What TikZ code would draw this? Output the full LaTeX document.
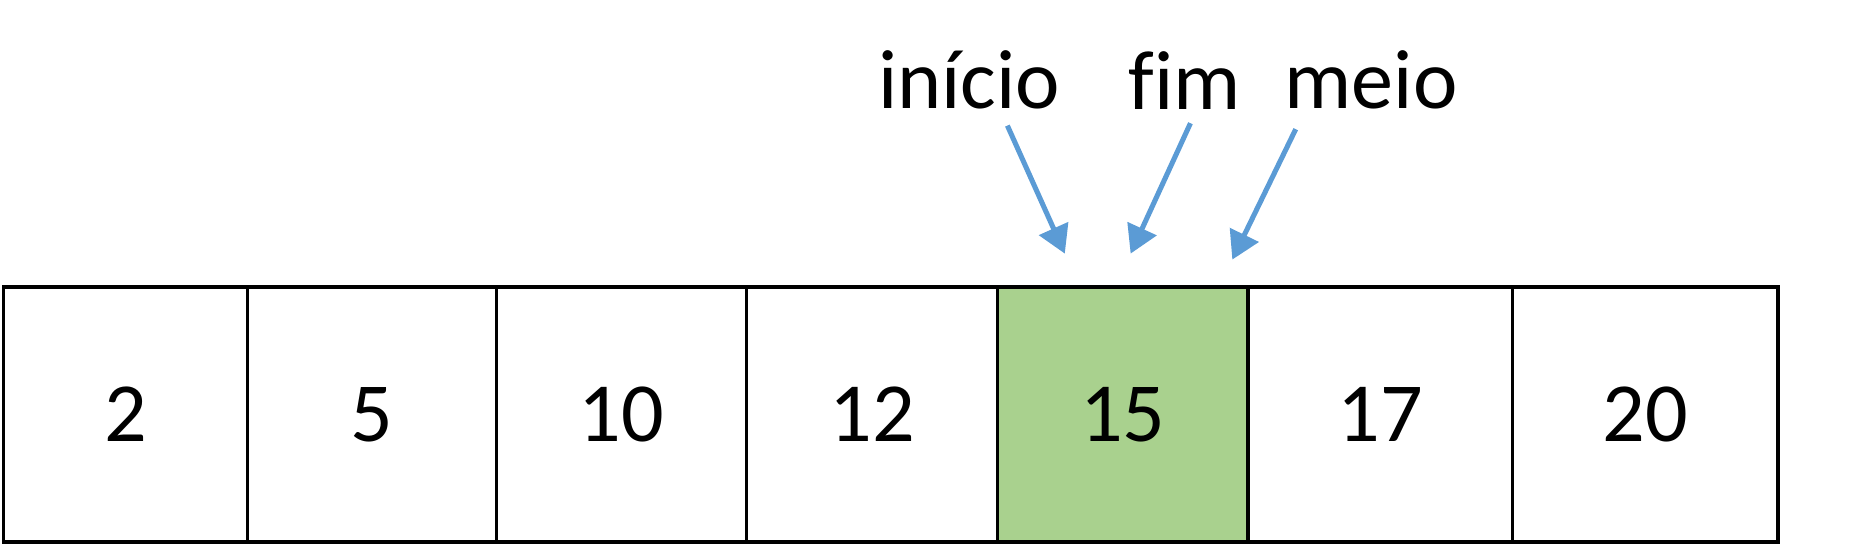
\documentclass[tikz,border=0pt]{standalone}
\usepackage{fontspec}
\setmainfont{Carlito}
\usetikzlibrary{arrows.meta}
\definecolor{arrowblue}{RGB}{91,155,213}
\definecolor{cellgreen}{RGB}{169,209,142}
\begin{document}
\begin{tikzpicture}[x=0.01cm,y=0.01cm,
  cell/.style={rectangle, draw, thick, minimum height=2.13cm, inner sep=0pt, font=\fontsize{20}{24}\selectfont},
  label/.style={font=\fontsize{20}{24}\selectfont},
  pointer/.style={draw=arrowblue, line width=1.2pt, -{Triangle[length=2.3mm,width=2.6mm]}, fill=arrowblue}]
\useasboundingbox (0,0) rectangle (1568,455);
% cells of the array
\foreach \l/\r/\v/\n in {3/207/2/c1, 207/415/5/c2, 415/624/10/c3, 624/834/12/c4, 834/1043/15/c5, 1043/1264/17/c6, 1264/1486/20/c7}
  \node at ({(\l+\r)/2}, 108.5) [cell, minimum width={(\r-\l)*0.01cm}] (\n) {\v};
\fill[cellgreen] (c5.south west) rectangle (c5.north east);
\node at (c5) [cell, minimum width=2.09cm] {15};

\node at (810, 388) [label] (inicio) {início};
\node at (990, 388) [label] (fim) {f\kern0pt im};
\node at (1146, 388) [label] (meio) {meio};

\coordinate (si) at (842, 350);
\coordinate (sf) at (995, 352);
\coordinate (sm) at (1083, 347);
\coordinate (pi) at (890, 243);
\coordinate (pf) at (945, 243);
\coordinate (pm) at (1030, 238);
\draw[pointer] (si) -- (pi);
\draw[pointer] (sf) -- (pf);
\draw[pointer] (sm) -- (pm);
\end{tikzpicture}
\end{document}
